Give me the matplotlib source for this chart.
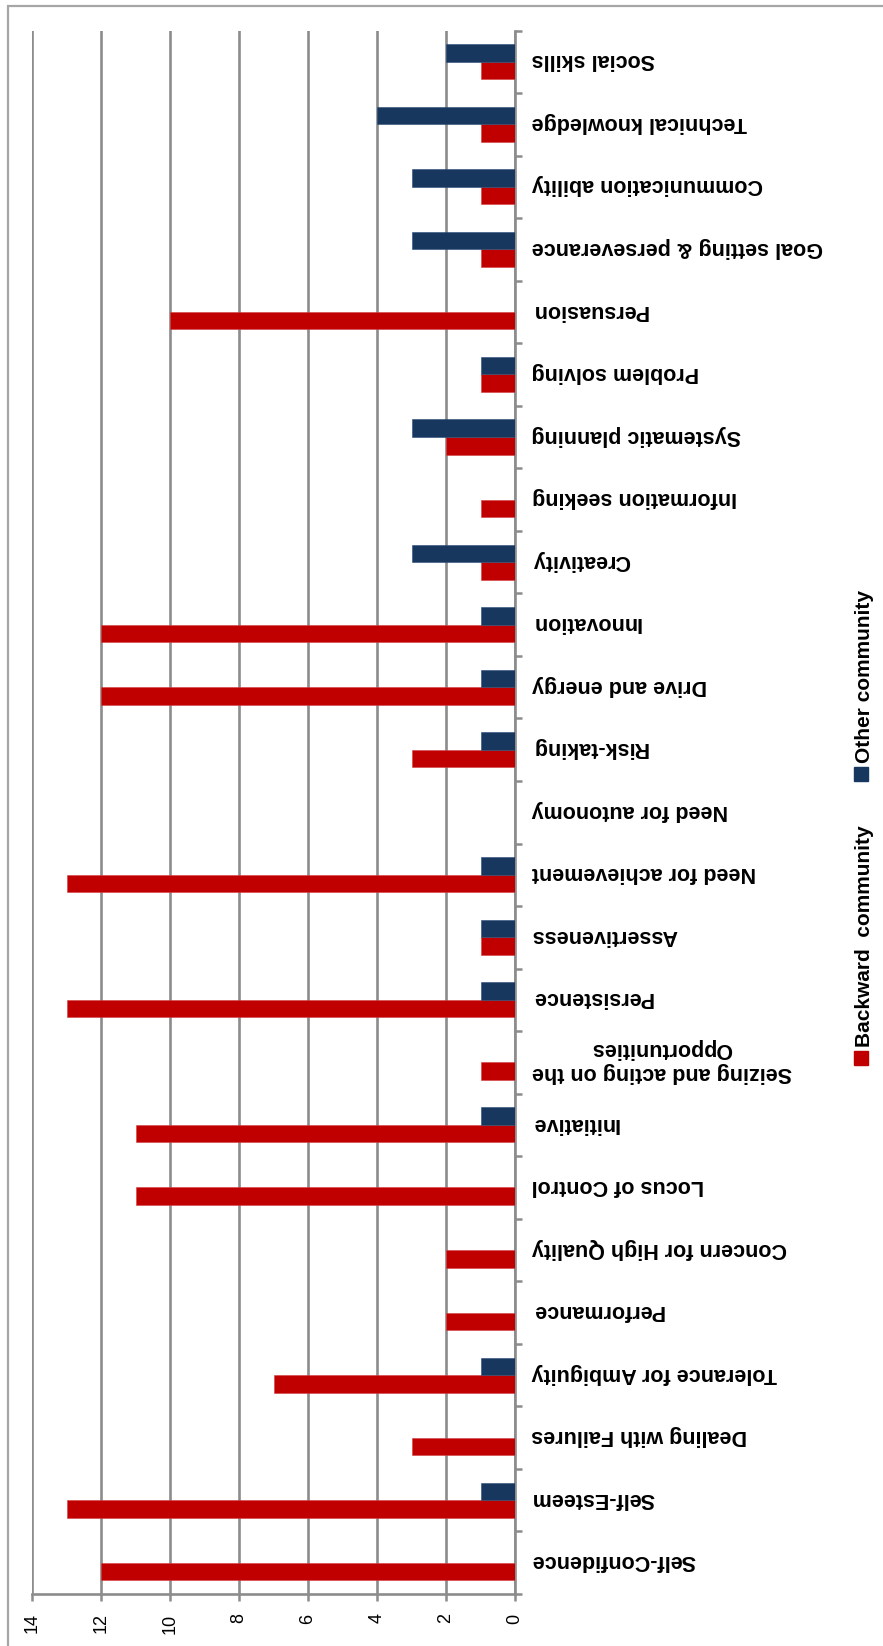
import matplotlib
matplotlib.use("Agg")
import matplotlib.pyplot as plt
from matplotlib.patches import Rectangle
import numpy as np

plt.rcParams["font.family"] = ["Liberation Sans", "DejaVu Sans"]

# Competency categories, listed from the bottom of the chart upward
categories = [
    "Self-Confidence", "Self-Esteem", "Dealing with Failures",
    "Tolerance for Ambiguity", "Performance", "Concern for High Quality",
    "Locus of Control", "Initiative", "Seizing and acting on the\nOpportunities",
    "Persistence", "Assertiveness", "Need for achievement", "Need for autonomy",
    "Risk-taking", "Drive and energy", "Innovation", "Creativity",
    "Information seeking", "Systematic planning", "Problem solving",
    "Persuasion", "Goal setting & perseverance", "Communication ability",
    "Technical knowledge", "Social skills",
]
backward = [12, 13, 3, 7, 2, 2, 11, 11, 1, 13, 1, 13, 0, 3, 12, 12, 1, 1, 2, 1, 10, 1, 1, 1, 1]
other = [0, 1, 0, 1, 0, 0, 0, 1, 0, 1, 1, 1, 0, 1, 1, 1, 3, 0, 3, 1, 0, 3, 3, 4, 2]
series_names = ["Backward  community", "Other community"]
value_ticks = list(range(0, 15, 2))

RED = "#C00000"
BLUE = "#17375E"
GRID = "#8C8C8C"

W, H = 883, 1646
fig = plt.figure(figsize=(W / 100, H / 100), dpi=100)

# plot area in pixel terms
x0, x1 = 32, 515
y_top, y_bot = 30.5, 1594
ax = fig.add_axes([x0 / W, 1 - y_bot / H, (x1 - x0) / W, (y_bot - y_top) / H])

pos = np.arange(len(categories))
h = 0.28
ax.barh(pos - h / 2, backward, height=h, color=RED, edgecolor="#D24040", linewidth=0.4, zorder=3)
ax.barh(pos + h / 2, other, height=h, color=BLUE, edgecolor="#2C4A75", linewidth=0.4, zorder=3)

ax.set_xlim(14, 0)
ax.set_ylim(-0.5, len(categories) - 0.5)

# value axis along the bottom
ax.set_xticks(value_ticks)
ax.set_xticklabels([str(v) for v in value_ticks], rotation=90, fontsize=13)
ax.tick_params(axis="x", direction="out", length=5, width=1.8, color=GRID, pad=9)
ax.grid(axis="x", color=GRID, linewidth=1.9, zorder=0)
ax.set_axisbelow(True)

# category axis on the right, ticks between categories
ax.yaxis.tick_right()
ax.set_yticks(np.arange(-0.5, len(categories), 1.0))
ax.set_yticklabels([])
ax.set_yticks(pos + 0.03, minor=True)
ax.set_yticklabels(categories, minor=True, fontsize=15.5, fontweight="bold")
ax.tick_params(axis="y", which="major", direction="out", length=5, width=1.8, color=GRID)
ax.tick_params(axis="y", which="minor", length=0, pad=12)
for lab in ax.get_yticklabels(minor=True):
    lab.set_rotation(180)
    lab.set_multialignment("center")
    lab.set_ha("left")
    lab.set_va("center")

for side in ("left", "top"):
    ax.spines[side].set_visible(False)
for side in ("right", "bottom"):
    ax.spines[side].set_color(GRID)
    ax.spines[side].set_linewidth(1.9)

# legend drawn sideways along the right edge
sq = 14
legend_items = [(series_names[0], RED, 1051), (series_names[1], BLUE, 767)]
for name, col, ytop in legend_items:
    fig.patches.append(Rectangle((854 / W, 1 - (ytop + sq) / H), sq / W, sq / H,
                                 transform=fig.transFigure, color=col))
    fig.text(864 / W, 1 - (ytop - 4) / H, name, rotation=90, ha="center", va="bottom",
             fontsize=15, fontweight="bold")

# chart-area border
fig.patches.append(Rectangle((8 / W, -0.2), 1.3, 1.2 - 6 / H, transform=fig.transFigure,
                             fill=False, edgecolor="#A6A6A6", linewidth=1.6))

fig.savefig("out.png", dpi=100)
